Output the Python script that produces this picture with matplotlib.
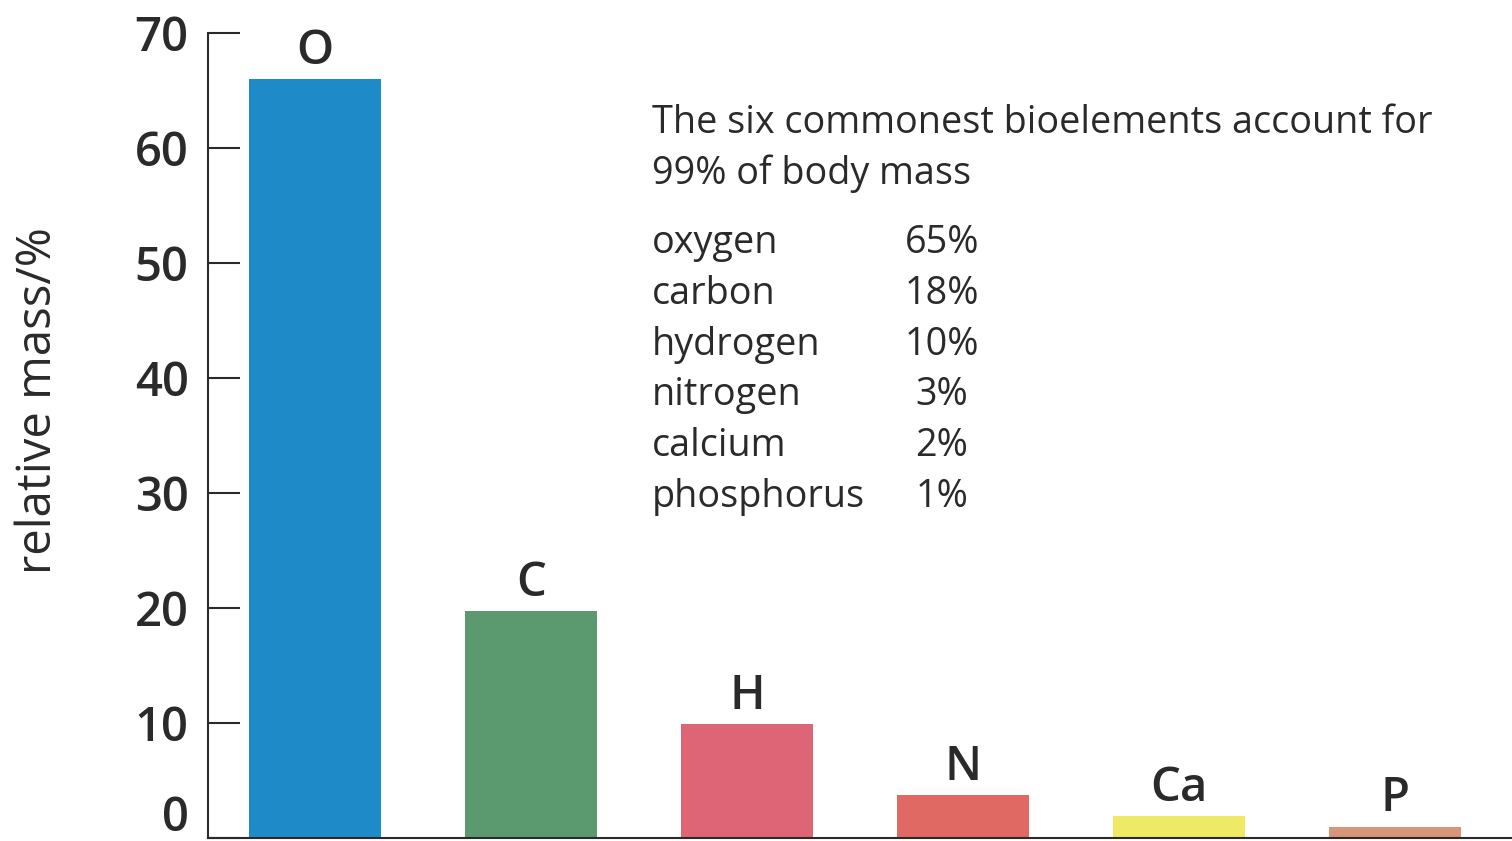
"""Relative mass of the six commonest bioelements in the human body."""

import matplotlib

matplotlib.use("Agg")
import matplotlib.pyplot as plt
from matplotlib.transforms import ScaledTranslation

SYMBOLS = ["O", "C", "H", "N", "Ca", "P"]
BAR_MASS = [66.0, 19.7, 9.9, 3.7, 1.9, 1.0]  # bar heights as drawn
BAR_COLORS = ["#1e8bc8", "#5a9a6e", "#dd6575", "#e06a63", "#eeea66", "#d9957a"]

ELEMENT_NAMES = ["oxygen", "carbon", "hydrogen", "nitrogen", "calcium", "phosphorus"]
TABLE_PERCENT = [65, 18, 10, 3, 2, 1]
HEADER = ["The six commonest bioelements account for", "99% of body mass"]

YTICKS = [0, 10, 20, 30, 40, 50, 60, 70]

W, H = 1512, 841
INK = "#2a2a2a"
FONT = "Open Sans"
TEXT_SIZE = 27.2


def fx(x):
    return x / W


def fy(y):
    return 1 - y / H


def main() -> None:
    plt.rcParams["font.family"] = [FONT, "DejaVu Sans"]
    fig = plt.figure(figsize=(W / 100, H / 100), dpi=100)
    ax = fig.add_axes([fx(208), fy(838), 1 - fx(208), fy(33) - fy(838)])

    bars = ax.bar(range(len(SYMBOLS)), BAR_MASS, width=0.61, color=BAR_COLORS)
    ax.bar_label(bars, labels=SYMBOLS, padding=3, fontsize=34,
                 fontweight="semibold", color=INK)

    ax.set_xlim(-0.495, 5.54)
    ax.set_ylim(0, 70)
    ax.set_yticks(YTICKS)
    ax.set_xticks([])
    ax.tick_params(axis="y", direction="in", length=23, width=1.5, color=INK,
                   pad=14, labelsize=34, labelcolor=INK)
    for lab in ax.get_yticklabels():
        lab.set_fontweight("semibold")
    # the "0" sits on the baseline of the axis, nudged up to stay inside
    zero = ax.get_yticklabels()[0]
    zero.set_va("baseline")
    zero.set_transform(zero.get_transform()
                       + ScaledTranslation(0, 5 / 72, fig.dpi_scale_trans))

    for side in ("top", "right"):
        ax.spines[side].set_visible(False)
    for side in ("left", "bottom"):
        ax.spines[side].set_color(INK)
        ax.spines[side].set_linewidth(1.5)

    ax.set_ylabel("relative mass/%", fontsize=34, color=INK)
    ax.yaxis.set_label_coords(-0.112, 0.544)

    # explanatory text block
    for i, line in enumerate(HEADER):
        fig.text(fx(652), fy(133 + 51 * i), line, fontsize=TEXT_SIZE, color=INK,
                 va="baseline", ha="left")
    for i, (name, pct) in enumerate(zip(ELEMENT_NAMES, TABLE_PERCENT)):
        yb = fy(253 + 50.8 * i)
        fig.text(fx(652), yb, name, fontsize=TEXT_SIZE, color=INK, va="baseline")
        fig.text(fx(942), yb, f"{pct}%", fontsize=TEXT_SIZE, color=INK,
                 va="baseline", ha="center")

    fig.savefig("out.png", dpi=100)
    plt.close(fig)


if __name__ == "__main__":
    main()
